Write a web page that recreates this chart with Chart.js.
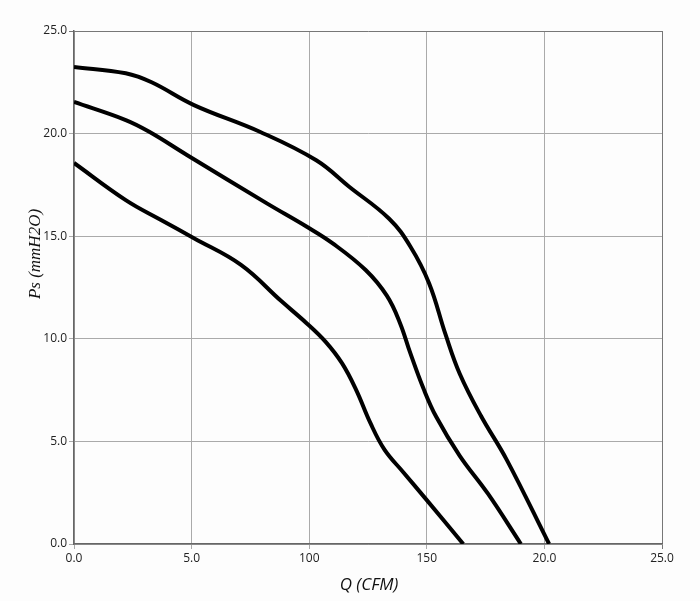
<!DOCTYPE html>
<html>
<head>
<meta charset="utf-8">
<script src="https://cdn.jsdelivr.net/npm/chart.js@4"></script>
<style>
  html, body { margin: 0; padding: 0; background: #fdfdfd; }
  #wrap { width: 700px; height: 601px; position: relative; }
</style>
</head>
<body>
<div id="wrap"><canvas id="chart" width="700" height="601"></canvas></div>
<script>
// fan curves
const topQ    = [0, 2.2, 3.3, 5.1, 7.9, 10.3, 11.7, 13.4, 14.3, 15.1, 15.8, 16.4, 17.3, 18.4, 20.2];
const topPs   = [23.25, 22.94, 22.5, 21.39, 20.09, 18.7, 17.41, 15.85, 14.5, 12.7, 10.2, 8.3, 6.25, 4.1, 0];
const midQ    = [0, 2.2, 3.2, 4.8, 8.2, 9.9, 11.0, 12.4, 13.3, 13.85, 14.3, 14.85, 15.4, 16.4, 17.6, 19.0];
const midPs   = [21.54, 20.66, 20.09, 18.96, 16.6, 15.46, 14.65, 13.35, 12.1, 10.8, 9.3, 7.6, 6.2, 4.3, 2.45, 0];
const lowQ    = [0, 2.2, 3.7, 5.1, 7.1, 8.8, 9.9, 10.7, 11.4, 12.0, 12.6, 13.2, 14.0, 15.0, 16.55];
const lowPs   = [18.57, 16.76, 15.79, 14.9, 13.6, 11.85, 10.75, 9.85, 8.8, 7.5, 5.9, 4.6, 3.5, 2.14, 0];

const xTickLabels = ['0.0', '5.0', '100', '150', '20.0', '25.0'];
const yTickLabels = ['0.0', '5.0', '10.0', '15.0', '20.0', '25.0'];
const xTitle = 'Q (CFM)';
const yTitle = 'Ps (mmH2O)';

const toPts = (xs, ys) => xs.map((x, i) => ({ x, y: ys[i] }));

function curve(xs, ys) {
    return {
        data: toPts(xs, ys),
        showLine: true,
        borderColor: '#000',
        borderWidth: 4,
        pointRadius: 0,
        fill: false,
        tension: 0.4,
    };
}

const gridColor = ctx => ctx.tick && ctx.tick.value === 25 ? '#777' : '#aaa';

// axis titles placed where the original has them
const titles = {
    id: 'titles',
    afterDraw(chart) {
        const c = chart.ctx;
        c.save();
        c.fillStyle = '#111';
        c.textAlign = 'center';
        c.textBaseline = 'middle';
        c.font = 'italic 17px "Open Sans"';
        c.fillText(xTitle, 369, 585);
        c.translate(36, 254);
        c.rotate(-Math.PI / 2);
        c.font = 'italic 17px "Liberation Serif"';
        c.fillText(yTitle, 0, 0);
        c.restore();
    },
};

new Chart(document.getElementById('chart'), {
    type: 'scatter',
    data: {
        datasets: [curve(topQ, topPs), curve(midQ, midPs), curve(lowQ, lowPs)],
    },
    options: {
        responsive: false,
        animation: false,
        layout: { padding: { top: 31, right: 38, left: 0, bottom: 0 } },
        plugins: { legend: { display: false }, tooltip: { enabled: false } },
        scales: {
            x: {
                type: 'linear', min: 0, max: 25,
                afterFit: s => { s.height = 57; },
                ticks: {
                    stepSize: 5, color: '#222', padding: 2,
                    font: { family: 'Open Sans', size: 12 },
                    callback: v => xTickLabels[v / 5],
                },
                grid: { color: gridColor, lineWidth: 1, tickLength: 5 },
                border: { color: '#666', width: 1.5 },
            },
            y: {
                type: 'linear', min: 0, max: 25,
                afterFit: s => { s.width = 74; },
                ticks: {
                    stepSize: 5, color: '#222', padding: 2,
                    font: { family: 'Open Sans', size: 12 },
                    callback: v => yTickLabels[v / 5],
                },
                grid: { color: gridColor, lineWidth: 1, tickLength: 5 },
                border: { color: '#666', width: 1.5 },
            },
        },
    },
    plugins: [titles],
});
</script>
</body>
</html>
